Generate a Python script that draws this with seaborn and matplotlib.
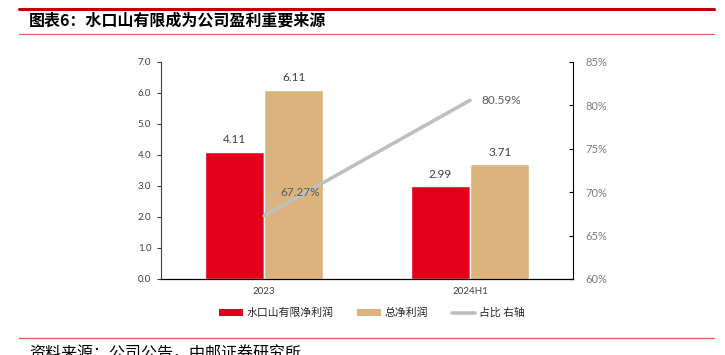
import numpy as np
import pandas as pd
import matplotlib
matplotlib.use('Agg')
import matplotlib.pyplot as plt
import seaborn as sns
from matplotlib.patches import Patch
from matplotlib.lines import Line2D

periods = ['2023', '2024H1']
sks_profit = [4.11, 2.99]      # 水口山有限净利润
total_profit = [6.11, 3.71]    # 总净利润
ratio = [67.27, 80.59]         # 占比 (%)
series_names = ['水口山有限净利润', '总净利润', '占比 右轴']
left_ticks = [0.0, 1.0, 2.0, 3.0, 4.0, 5.0, 6.0, 7.0]
right_ticks = [60, 65, 70, 75, 80, 85]

red = '#e2001a'
tan = '#dbb37d'
grey = '#bfbfbf'

sns.set_theme(style='white')
plt.rcParams['font.family'] = ['Lato', 'Noto Sans CJK SC', 'DejaVu Sans']

df = pd.DataFrame({
    'period': periods * 2,
    'value': sks_profit + total_profit,
    'series': [series_names[0]] * len(periods) + [series_names[1]] * len(periods),
})

fig = plt.figure(figsize=(7.25, 3.55), dpi=100)
ax = fig.add_axes([0.2221, 0.2141, 0.5683, 0.6113])

sns.barplot(data=df, x='period', y='value', hue='series', palette=[red, tan],
            width=0.575, saturation=1, ax=ax, legend=False)
for c in ax.containers:
    ax.bar_label(c, fmt='%.2f', padding=4.5, fontsize=8.5, color='#404040')

ax.set_xlim(-0.5, 1.5)
ax.set_ylim(0, 7)
ax.set_yticks(left_ticks)
ax.set_yticklabels([f'{t:.1f}' for t in left_ticks], fontsize=7, color='#404040')
ax.set_xlabel('')
ax.set_ylabel('')
ax.tick_params(axis='x', length=0, labelsize=7, labelcolor='#404040', pad=6)
ax.tick_params(axis='y', direction='out', length=3, width=0.8, color='#404040', left=True, pad=4)
for s in ['top', 'right']:
    ax.spines[s].set_visible(False)
ax.spines['left'].set_color('#404040')
ax.spines['left'].set_linewidth(0.8)
ax.spines['bottom'].set_color('black')
ax.spines['bottom'].set_linewidth(0.9)

ax2 = ax.twinx()
xpos = np.arange(len(periods))
sns.lineplot(x=xpos, y=ratio, color=grey, linewidth=2.6, ax=ax2, legend=False)
ax2.set_ylim(60, 85)
ax2.set_yticks(right_ticks)
ax2.set_yticklabels([f'{t}%' for t in right_ticks], fontsize=8, color='#7f7f7f')
ax2.set_ylabel('')
ax2.tick_params(axis='y', direction='in', length=3, width=0.8, color='black', right=True, pad=9)
for s in ['top', 'left', 'bottom']:
    ax2.spines[s].set_visible(False)
ax2.spines['right'].set_color('black')
ax2.spines['right'].set_linewidth(0.8)

ax2.annotate(f'{ratio[0]:.2f}%', xy=(xpos[0], ratio[0]), xytext=(26, 16.5),
             textcoords='offset points', ha='center', va='center', fontsize=8.5, color='#595959',
             arrowprops=dict(arrowstyle='-', color=grey, lw=0.8, relpos=(0, 0.5),
                             shrinkA=1, shrinkB=0,
                             connectionstyle='angle,angleA=0,angleB=70,rad=0'))
ax2.annotate(f'{ratio[1]:.2f}%', xy=(xpos[1], ratio[1]), xytext=(8, 0),
             textcoords='offset points', ha='left', va='center', fontsize=8.5, color='#595959')

handles = [Patch(facecolor=red, edgecolor='none'),
           Patch(facecolor=tan, edgecolor='none'),
           Line2D([0], [0], color=grey, lw=2.6)]
fig.legend(handles, series_names, loc='center', bbox_to_anchor=(0.513, 1 - 313 / 355),
           ncol=3, frameon=False, handlelength=2.2, handleheight=0.55,
           handletextpad=0.3, columnspacing=2.2,
           prop={'family': ['Noto Sans CJK SC'], 'size': 7.8})

# title and framing lines
fig.add_artist(Line2D([19 / 725, 714 / 725], [1 - 8.5 / 355] * 2, color='#c00000', lw=2.2))
fig.add_artist(Line2D([19 / 725, 714 / 725], [1 - 33.5 / 355] * 2, color='#e06666', lw=0.9))
fig.text(29 / 725, 1 - 21 / 355, '图表6：水口山有限成为公司盈利重要来源', ha='left', va='center',
         fontsize=11.5, fontweight='bold', color='black', family=['Noto Sans CJK SC'])
fig.add_artist(Line2D([19 / 725, 714 / 725], [1 - 337.5 / 355] * 2, color='#e06666', lw=1.0))
fig.text(29 / 725, 1 - 345 / 355, '资料来源：公司公告，中邮证券研究所', ha='left', va='top',
         fontsize=11.5, color='black', family=['Noto Sans CJK SC'])

fig.savefig('out.png', dpi=100)
